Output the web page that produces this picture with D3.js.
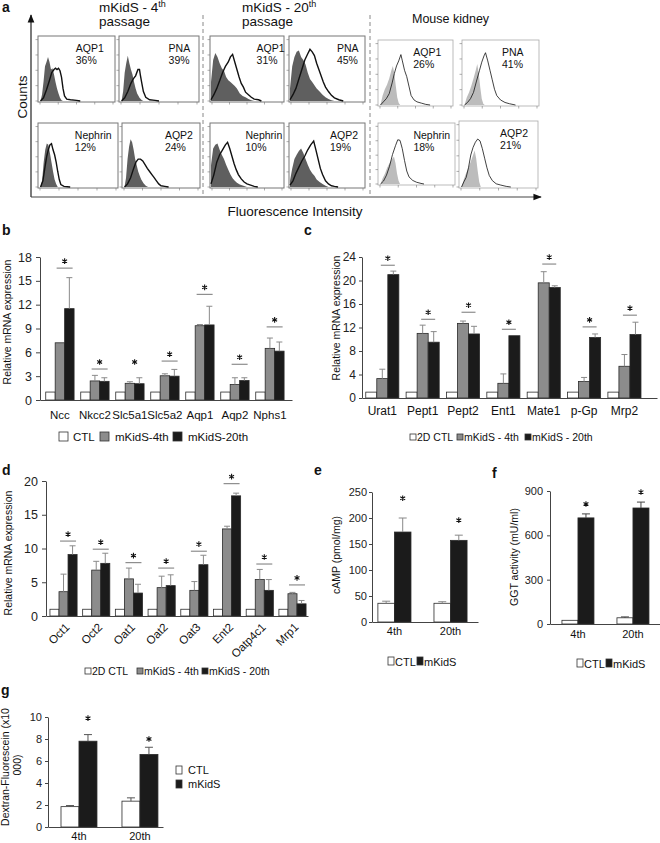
<!DOCTYPE html>
<html><head><meta charset="utf-8">
<script src="https://cdn.jsdelivr.net/npm/d3@7"></script>
<style>body{margin:0;background:#fff}svg{font-family:"Liberation Sans",Arial,sans-serif}</style>
</head><body><svg id="fig" width="660" height="843"></svg>
<script>
// ================= DATA =================
// Panel a: flow cytometry
const flowMarkers = ["AQP1", "PNA", "Nephrin", "AQP2"];
const flowPct4 = [36, 39, 12, 24];
const flowPct20 = [31, 45, 10, 19];
const flowPctKidney = [26, 41, 18, 21];
const flowDecades = [0, 1, 2, 3, 4];
// histogram curves: [position along log axis (0-1), relative count (0-1)]
const iso4 = [
  [[0.02,0],[0.04,0.1],[0.06,0.3],[0.08,0.55],[0.1,0.62],[0.12,0.7],[0.14,0.62],[0.16,0.5],[0.18,0.52],[0.2,0.42],[0.22,0.3],[0.24,0.2],[0.26,0.12],[0.28,0.05],[0.3,0.01],[0.32,0]],
  [[0.02,0],[0.04,0.15],[0.06,0.45],[0.08,0.6],[0.1,0.72],[0.12,0.6],[0.14,0.5],[0.16,0.42],[0.18,0.3],[0.2,0.2],[0.22,0.12],[0.25,0.05],[0.28,0.01],[0.3,0]],
  [[0.02,0],[0.04,0.1],[0.06,0.4],[0.08,0.6],[0.1,0.7],[0.12,0.68],[0.14,0.55],[0.16,0.4],[0.18,0.25],[0.2,0.12],[0.22,0.05],[0.24,0]],
  [[0.02,0],[0.04,0.15],[0.06,0.45],[0.08,0.65],[0.1,0.77],[0.12,0.72],[0.14,0.6],[0.16,0.45],[0.18,0.35],[0.2,0.25],[0.22,0.18],[0.24,0.12],[0.27,0.06],[0.3,0.02],[0.33,0]]
];
const stain4 = [
  [[0.02,0],[0.06,0.05],[0.1,0.18],[0.14,0.33],[0.17,0.45],[0.2,0.5],[0.22,0.52],[0.24,0.5],[0.26,0.52],[0.28,0.48],[0.3,0.38],[0.32,0.2],[0.34,0.08],[0.37,0.03],[0.42,0.02],[0.5,0.01],[0.55,0]],
  [[0.02,0],[0.06,0.05],[0.1,0.15],[0.14,0.28],[0.17,0.35],[0.2,0.4],[0.23,0.5],[0.25,0.5],[0.26,0.42],[0.28,0.28],[0.3,0.15],[0.33,0.06],[0.38,0.02],[0.45,0.01],[0.5,0]],
  [[0.02,0],[0.05,0.1],[0.08,0.35],[0.1,0.5],[0.12,0.6],[0.14,0.68],[0.16,0.7],[0.18,0.6],[0.2,0.52],[0.22,0.4],[0.24,0.25],[0.26,0.12],[0.28,0.04],[0.32,0.01],[0.4,0]],
  [[0.02,0],[0.06,0.05],[0.1,0.15],[0.14,0.3],[0.17,0.4],[0.2,0.45],[0.23,0.45],[0.26,0.42],[0.29,0.36],[0.32,0.3],[0.35,0.25],[0.38,0.2],[0.41,0.15],[0.44,0.1],[0.47,0.05],[0.5,0.02],[0.55,0.01],[0.6,0]]
];
const iso20 = [
  [[0,0.3],[0.03,0.65],[0.06,0.76],[0.09,0.7],[0.12,0.6],[0.15,0.52],[0.18,0.48],[0.21,0.38],[0.24,0.33],[0.27,0.3],[0.3,0.27],[0.33,0.24],[0.36,0.2],[0.4,0.12],[0.44,0.08],[0.48,0.06],[0.52,0.03],[0.56,0.01],[0.6,0]],
  [[0,0.2],[0.03,0.55],[0.06,0.7],[0.09,0.78],[0.12,0.8],[0.15,0.7],[0.18,0.65],[0.21,0.58],[0.24,0.45],[0.27,0.35],[0.3,0.3],[0.33,0.25],[0.36,0.2],[0.4,0.15],[0.44,0.1],[0.48,0.06],[0.52,0.03],[0.56,0.01],[0.6,0]],
  [[0,0.35],[0.03,0.62],[0.06,0.68],[0.09,0.7],[0.12,0.6],[0.15,0.52],[0.18,0.45],[0.21,0.36],[0.24,0.28],[0.27,0.2],[0.3,0.14],[0.33,0.1],[0.36,0.07],[0.4,0.04],[0.45,0.02],[0.5,0]],
  [[0,0.1],[0.03,0.3],[0.06,0.45],[0.09,0.52],[0.12,0.58],[0.15,0.62],[0.18,0.55],[0.21,0.45],[0.24,0.36],[0.27,0.28],[0.3,0.22],[0.33,0.18],[0.36,0.12],[0.4,0.08],[0.44,0.05],[0.48,0.02],[0.52,0]]
];
const stain20 = [
  [[0,0.02],[0.04,0.1],[0.08,0.2],[0.12,0.32],[0.16,0.45],[0.2,0.55],[0.24,0.62],[0.27,0.7],[0.3,0.74],[0.33,0.62],[0.36,0.5],[0.39,0.38],[0.42,0.28],[0.45,0.22],[0.48,0.14],[0.52,0.1],[0.56,0.06],[0.6,0.03],[0.66,0.02],[0.7,0]],
  [[0,0.02],[0.04,0.1],[0.08,0.2],[0.12,0.35],[0.16,0.5],[0.2,0.65],[0.24,0.75],[0.27,0.82],[0.3,0.78],[0.33,0.72],[0.36,0.6],[0.39,0.5],[0.42,0.4],[0.45,0.3],[0.48,0.22],[0.52,0.15],[0.56,0.09],[0.6,0.05],[0.66,0.02],[0.72,0]],
  [[0,0.05],[0.04,0.2],[0.08,0.4],[0.12,0.52],[0.16,0.6],[0.2,0.68],[0.23,0.72],[0.26,0.62],[0.29,0.5],[0.32,0.38],[0.35,0.28],[0.38,0.2],[0.42,0.13],[0.46,0.08],[0.5,0.05],[0.55,0.03],[0.6,0.01],[0.65,0]],
  [[0,0.03],[0.04,0.1],[0.08,0.22],[0.12,0.32],[0.16,0.42],[0.2,0.5],[0.24,0.6],[0.28,0.68],[0.32,0.74],[0.35,0.6],[0.38,0.45],[0.41,0.3],[0.44,0.2],[0.48,0.1],[0.52,0.05],[0.56,0.02],[0.6,0.01],[0.65,0]]
];
const isoKidney = [
  [[0.02,0],[0.05,0.15],[0.08,0.25],[0.11,0.32],[0.14,0.42],[0.17,0.55],[0.19,0.62],[0.21,0.5],[0.23,0.3],[0.25,0.12],[0.27,0.03],[0.29,0]],
  [[0.02,0],[0.05,0.12],[0.08,0.2],[0.11,0.3],[0.14,0.42],[0.17,0.55],[0.19,0.65],[0.21,0.5],[0.23,0.28],[0.25,0.1],[0.27,0.02],[0.29,0]],
  [[0.02,0],[0.05,0.1],[0.08,0.18],[0.11,0.28],[0.14,0.35],[0.17,0.42],[0.2,0.46],[0.22,0.35],[0.24,0.18],[0.26,0.06],[0.28,0]],
  [[0.02,0],[0.05,0.12],[0.08,0.22],[0.11,0.3],[0.14,0.4],[0.17,0.5],[0.19,0.57],[0.21,0.45],[0.23,0.25],[0.25,0.08],[0.27,0]]
];
const stainKidney = [
  [[0.02,0],[0.06,0.05],[0.1,0.1],[0.14,0.18],[0.18,0.35],[0.21,0.5],[0.24,0.62],[0.27,0.7],[0.3,0.8],[0.32,0.7],[0.35,0.55],[0.38,0.45],[0.41,0.3],[0.44,0.15],[0.48,0.08],[0.52,0.05],[0.58,0.03],[0.64,0.01],[0.7,0]],
  [[0.02,0],[0.06,0.04],[0.1,0.1],[0.14,0.2],[0.18,0.38],[0.22,0.55],[0.25,0.68],[0.28,0.78],[0.3,0.83],[0.33,0.7],[0.36,0.55],[0.39,0.4],[0.42,0.25],[0.45,0.15],[0.5,0.08],[0.56,0.04],[0.62,0.02],[0.7,0]],
  [[0.02,0],[0.06,0.05],[0.1,0.15],[0.14,0.3],[0.18,0.5],[0.22,0.65],[0.25,0.75],[0.28,0.74],[0.31,0.6],[0.34,0.4],[0.37,0.22],[0.4,0.12],[0.45,0.06],[0.5,0.03],[0.56,0.01],[0.6,0]],
  [[0.02,0],[0.05,0.08],[0.08,0.15],[0.11,0.3],[0.14,0.5],[0.17,0.62],[0.2,0.7],[0.23,0.75],[0.26,0.72],[0.29,0.6],[0.32,0.45],[0.35,0.3],[0.38,0.18],[0.42,0.1],[0.47,0.05],[0.53,0.03],[0.6,0.01],[0.66,0]]
];

// Panel b
const bGenes = ["Ncc", "Nkcc2", "Slc5a1", "Slc5a2", "Aqp1", "Aqp2", "Nphs1"];
const bCtl = [1, 1, 1, 1, 1, 1, 1];
const bP4 = [7.2, 2.4, 2.1, 3.05, 9.35, 1.95, 6.5];
const bP4Err = [null, 3.1, 2.3, 3.3, 9.5, 2.8, 7.8];
const bP20 = [11.5, 2.35, 2.05, 3.0, 9.45, 2.45, 6.15];
const bP20Err = [15.4, 2.8, 2.8, 3.85, 11.8, 2.8, 7.3];
const bSig = [16.6, 3.9, 3.9, 4.9, 13.3, 4.5, 9.2];
const bSigLine = [true, true, false, true, true, true, true];
const bTicks = [0, 3, 6, 9, 12, 15, 18];
const bLegend = ["CTL", "mKidS-4th", "mKidS-20th"];

// Panel c
const cGenes = ["Urat1", "Pept1", "Pept2", "Ent1", "Mate1", "p-Gp", "Mrp2"];
const cCtl = [1, 1, 1, 1, 1, 1, 1];
const cP4 = [3.3, 11.0, 12.7, 2.5, 19.6, 2.8, 5.4];
const cP4Err = [4.9, 12.4, 13.1, 4.1, 21.5, 3.5, 7.4];
const cP20 = [21.0, 9.5, 10.9, 10.6, 18.8, 10.3, 10.8];
const cP20Err = [21.6, 11.3, 12.2, null, 19.1, 10.9, 12.9];
const cSig = [22.6, 13.4, 14.6, 11.7, 22.8, 12.1, 14.1];
const cTicks = [0, 4, 8, 12, 16, 20, 24];
const cLegend = ["2D CTL", "mKidS - 4th", "mKidS - 20th"];

// Panel d
const dGenes = ["Oct1", "Oct2", "Oat1", "Oat2", "Oat3", "Ent2", "Oatp4c1", "Mrp1"];
const dCtl = [1, 1, 1, 1, 1, 1, 1, 1];
const dP4 = [3.6, 6.8, 5.5, 4.2, 3.8, 12.9, 5.4, 3.3];
const dP4Err = [6.2, 8.1, 7.1, 5.9, 5.1, 13.3, 6.9, 3.5];
const dP20 = [9.1, 7.8, 3.4, 4.5, 7.6, 17.8, 3.8, 1.8];
const dP20Err = [10.4, 9.3, 4.7, 6.1, 9.0, 18.2, 5.4, 2.3];
const dSig = [11.1, 9.9, 7.9, 7.1, 9.6, 19.6, 7.7, 4.6];
const dTicks = [0, 5, 10, 15, 20];
const dLegend = ["2D CTL", "mKidS - 4th", "mKidS - 20th"];

// Panels e, f, g
const passages = ["4th", "20th"];
const eCtl = [36, 36], eCtlErr = [40, 39], eKid = [173, 157], eKidErr = [200, 167], eStar = [238, 196];
const eTicks = [0, 50, 100, 150, 200, 250];
const fCtl = [25, 42], fCtlErr = [null, 48], fKid = [718, 785], fKidErr = [745, 825], fStar = [812, 893];
const fTicks = [0, 300, 600, 900];
const gCtl = [1.85, 2.35], gCtlErr = [1.95, 2.65], gKid = [7.8, 6.6], gKidErr = [8.4, 7.25], gStar = [9.9, 8.0];
const gTicks = [0, 2, 4, 6, 8, 10];
const efgLegend = ["CTL", "mKidS"];

// ================= DRAWING =================
const svg = d3.select("#fig");
const WHITE = "#ffffff", GREY = "#8c8c8c", BLACK = "#1b1b1b";

function txt(x, y, s, size, opts = {}) {
  const t = svg.append("text").attr("x", x).attr("y", y).attr("font-size", size)
    .attr("fill", opts.fill || "#111").text(s);
  if (opts.anchor) t.attr("text-anchor", opts.anchor);
  if (opts.weight) t.attr("font-weight", opts.weight);
  if (opts.rotate) t.attr("transform", `rotate(${opts.rotate},${x},${y})`);
  return t;
}
const starPath = d3.symbol().type(d3.symbolAsterisk).size(22)();
function star(cx, cy) {
  svg.append("path").attr("d", starPath).attr("transform", `translate(${cx},${cy})`)
    .attr("fill", "none").attr("stroke", "#111").attr("stroke-width", 1.1);
}

// ---------- panel a ----------
txt(2, 12, "a", 14, { weight: "bold" });
const defs = svg.append("defs");
defs.append("marker").attr("id", "arr").attr("viewBox", "0 0 10 10").attr("refX", 9).attr("refY", 5)
  .attr("markerWidth", 7).attr("markerHeight", 7).attr("orient", "auto")
  .append("path").attr("d", "M0,1 L10,5 L0,9 Z").attr("fill", "#111");
svg.append("line").attr("x1", 31).attr("y1", 197).attr("x2", 31).attr("y2", 15)
  .attr("stroke", "#222").attr("stroke-width", 1.2).attr("marker-end", "url(#arr)");
svg.append("line").attr("x1", 31).attr("y1", 197).attr("x2", 541).attr("y2", 197)
  .attr("stroke", "#444").attr("stroke-width", 1.2).attr("marker-end", "url(#arr)");
txt(27, 97, "Counts", 13.5, { anchor: "middle", rotate: -90 });
txt(295, 216, "Fluorescence Intensity", 13.5, { anchor: "middle" });
[203, 370].forEach(xx => svg.append("line").attr("x1", xx).attr("x2", xx).attr("y1", 15).attr("y2", 197)
  .attr("stroke", "#888").attr("stroke-width", 1).attr("stroke-dasharray", "4,3"));
function twoLineTitle(x, num) {
  const t = svg.append("text").attr("x", x).attr("y", 12).attr("font-size", 13.5).attr("fill", "#111");
  t.append("tspan").text(`mKidS - ${num}`);
  t.append("tspan").attr("font-size", 9).attr("dy", -5).text("th");
  txt(x, 26, "passage", 13.5);
}
twoLineTitle(99, "4");
twoLineTitle(242, "20");
txt(412, 23, "Mouse kidney", 12.5);

const boxes4 = [[38,36,77,66],[119,36,80,66],[38,123,80,65],[122,123,78,65]];
const boxes20 = [[210,36,74,66],[289,36,76,66],[210,123,74,65],[289,123,76,65]];
const boxesKid = [[378,40,75,66],[462,40,77,66],[378,123,77,62],[459,121,79,67]];
const lx4 = [0.49, 0.62, 0.46, 0.55], lx20 = [0.63, 0.63, 0.48, 0.54], lxKid = [0.47, 0.52, 0.46, 0.52];

function flowPanel(box, iso, stain, marker, pct, lx, kind) {
  const [px, py, w, h] = box;
  const g = svg.append("g");
  const x = d3.scaleLinear().domain([0, 1]).range([px + 1, px + w - 1]);
  const y = d3.scaleLinear().domain([0, 1]).range([py + h - 1, py + 2]);
  const cell = kind === "cell";
  g.append("rect").attr("x", px).attr("y", py).attr("width", w).attr("height", h)
    .attr("fill", "#fff").attr("stroke", cell ? "#777" : "#aaa").attr("stroke-width", cell ? 1 : 0.8);
  const area = d3.area().x(d => x(d[0])).y0(y(0)).y1(d => y(d[1]));
  const line = d3.line().x(d => x(d[0])).y(d => y(d[1]));
  g.append("path").datum(iso).attr("d", area).attr("fill", cell ? "#5f5f5f" : "#bcbcbc");
  g.append("path").datum(stain).attr("d", line).attr("fill", "none")
    .attr("stroke", "#111").attr("stroke-width", cell ? 1.4 : 0.8);
  const xt = d3.scaleLinear().domain([0, 4]).range([px + 2, px + w - 2]);
  flowDecades.forEach(d => {
    g.append("line").attr("x1", xt(d)).attr("x2", xt(d)).attr("y1", py + h).attr("y2", py + h + 2.5)
      .attr("stroke", "#777").attr("stroke-width", 0.6);
    g.append("line").attr("x1", px).attr("x2", px - 2.5).attr("y1", py + h - d * h / 4.3 - 1).attr("y2", py + h - d * h / 4.3 - 1)
      .attr("stroke", "#777").attr("stroke-width", 0.6);
  });
  txt(px + lx * w, py + 16, marker, 10.5);
  txt(px + lx * w, py + 27.5, pct + "%", 10.5);
}
flowMarkers.forEach((m, i) => {
  flowPanel(boxes4[i], iso4[i], stain4[i], m, flowPct4[i], lx4[i], "cell");
  flowPanel(boxes20[i], iso20[i], stain20[i], m, flowPct20[i], lx20[i], "cell");
  flowPanel(boxesKid[i], isoKidney[i], stainKidney[i], m, flowPctKidney[i], lxKid[i], "kidney");
});

// ---------- generic bar panel ----------
function barPanel(o) {
  const g = svg.append("g");
  const x = d3.scaleBand().domain(o.cats).range([o.left, o.right])
    .paddingInner(o.pi).paddingOuter(o.po).align(o.align);
  const sub = d3.scaleBand().domain(d3.range(o.series.length)).range([0, x.bandwidth()]);
  const y = d3.scaleLinear().domain([0, o.yMax]).range([o.bottom, o.top]);
  o.series.forEach((s, si) => {
    g.append("g").selectAll("rect").data(o.cats).join("rect")
      .attr("x", c => x(c) + sub(si)).attr("width", sub.bandwidth())
      .attr("y", (c, i) => y(s.vals[i])).attr("height", (c, i) => y(0) - y(s.vals[i]))
      .attr("fill", s.fill).attr("stroke", "#2a2a2a").attr("stroke-width", 0.8);
  });
  o.series.forEach((s, si) => {
    if (!s.errs) return;
    const eg = g.append("g").attr("stroke", o.errColor).attr("stroke-width", 1);
    o.cats.forEach((c, i) => {
      const e = s.errs[i];
      if (e == null || e <= s.vals[i]) return;
      const cx = x(c) + sub(si) + sub.bandwidth() / 2;
      eg.append("line").attr("x1", cx).attr("x2", cx).attr("y1", y(s.vals[i])).attr("y2", y(e));
      eg.append("line").attr("x1", cx - o.cap).attr("x2", cx + o.cap).attr("y1", y(e)).attr("y2", y(e));
    });
  });
  const ya = g.append("g").attr("transform", `translate(${o.left},0)`)
    .call(d3.axisLeft(y).tickValues(o.ticks).tickSize(o.tickSize).tickPadding(o.tickPad).tickSizeOuter(0));
  ya.selectAll("text").attr("font-size", o.tickFont).attr("fill", "#222").attr("font-family", null);
  ya.selectAll("line,path").attr("stroke", "#444");
  const xa = g.append("g").attr("transform", `translate(0,${o.bottom})`)
    .call(d3.axisBottom(x).tickSize(0).tickPadding(o.xPad).tickSizeOuter(0));
  xa.selectAll("text").attr("font-size", o.xFont).attr("fill", "#111").attr("font-family", null);
  xa.select("path").attr("stroke", "#444");
  if (o.rotateLabels) {
    xa.selectAll("text").attr("text-anchor", "end").attr("x", 0).attr("y", 0).attr("dy", "0.35em")
      .attr("transform", "translate(4,9) rotate(-45)");
  }
  return { x, sub, y };
}

function sigMarks(p, cats, sig, showLine, half) {
  cats.forEach((c, i) => {
    const cx = p.x(c) + p.sub(2);
    const yy = p.y(sig[i]);
    if (!showLine || showLine[i]) {
      svg.append("line").attr("x1", cx - half).attr("x2", cx + half).attr("y1", yy).attr("y2", yy)
        .attr("stroke", "#777").attr("stroke-width", 1);
    }
    star(cx, yy - 7);
  });
}

function starsOverBlack(p, cats, lvl) {
  cats.forEach((c, i) => {
    const cx = p.x(c) + p.sub(1) + p.sub.bandwidth() / 2;
    star(cx, p.y(lvl[i]));
  });
}

function boxKey(x, y, w, h, fill) {
  svg.append("rect").attr("x", x).attr("y", y).attr("width", w).attr("height", h)
    .attr("fill", fill).attr("stroke", "#333").attr("stroke-width", 0.8);
}

// ---------- panel b ----------
txt(2, 235, "b", 14, { weight: "bold" });
const pb = barPanel({
  cats: bGenes, left: 40, right: 292, top: 257, bottom: 400, yMax: 18, ticks: bTicks,
  pi: 0.19, po: 0.195, align: 0.42, tickSize: 4, tickPad: 4, xPad: 11, tickFont: 12.5, xFont: 11.5,
  errColor: "#8a8a8a", cap: 3,
  series: [{ vals: bCtl, fill: WHITE }, { vals: bP4, errs: bP4Err, fill: GREY }, { vals: bP20, errs: bP20Err, fill: BLACK }]
});
sigMarks(pb, bGenes, bSig, bSigLine, 8);
txt(11, 322, "Relative mRNA expression", 10.5, { anchor: "middle", rotate: -90 });
boxKey(59, 432, 9, 9, WHITE); txt(73, 441, bLegend[0], 11.5);
boxKey(100, 432, 9, 9, GREY); txt(115, 441, bLegend[1], 11.5);
boxKey(173, 432, 9, 9, BLACK); txt(188, 441, bLegend[2], 11.5);

// ---------- panel c ----------
txt(304, 235, "c", 14, { weight: "bold" });
const pc = barPanel({
  cats: cGenes, left: 362, right: 657, top: 257, bottom: 398, yMax: 24, ticks: cTicks,
  pi: 0.18, po: 0.245, align: 0.19, tickSize: 3, tickPad: 3, xPad: 8, tickFont: 12, xFont: 12,
  errColor: "#8a8a8a", cap: 3,
  series: [{ vals: cCtl, fill: WHITE }, { vals: cP4, errs: cP4Err, fill: GREY }, { vals: cP20, errs: cP20Err, fill: BLACK }]
});
sigMarks(pc, cGenes, cSig, null, 7);
txt(340, 318, "Relative mRNA expression", 10.5, { anchor: "middle", rotate: -90 });
boxKey(410, 434, 6, 6, WHITE); txt(417, 441, cLegend[0], 10.5);
boxKey(457, 434, 6, 6, GREY); txt(464, 441, cLegend[1], 10.5);
boxKey(525, 434, 6, 6, BLACK); txt(532, 441, cLegend[2], 10.5);

// ---------- panel d ----------
txt(2, 475, "d", 14, { weight: "bold" });
const pd = barPanel({
  cats: dGenes, left: 46, right: 308, top: 481, bottom: 616, yMax: 20, ticks: dTicks,
  pi: 0.17, po: 0.09, align: 0.67, tickSize: 4, tickPad: 4, xPad: 8, tickFont: 12.5, xFont: 11.5,
  errColor: "#8a8a8a", cap: 3, rotateLabels: true,
  series: [{ vals: dCtl, fill: WHITE }, { vals: dP4, errs: dP4Err, fill: GREY }, { vals: dP20, errs: dP20Err, fill: BLACK }]
});
sigMarks(pd, dGenes, dSig, null, 8);
txt(12, 553, "Relative mRNA expression", 10.5, { anchor: "middle", rotate: -90 });
boxKey(85, 668, 6, 6, WHITE); txt(92, 675, dLegend[0], 10.5);
boxKey(137, 668, 6, 6, GREY); txt(144, 675, dLegend[1], 10.5);
boxKey(202, 668, 6, 6, BLACK); txt(209, 675, dLegend[2], 10.5);

// ---------- panel e ----------
txt(314, 475, "e", 14, { weight: "bold" });
const pe = barPanel({
  cats: passages, left: 372, right: 478, top: 492, bottom: 622, yMax: 250, ticks: eTicks,
  pi: 0.41, po: 0.15, align: 0.35, tickSize: 3, tickPad: 2, xPad: 5, tickFont: 11, xFont: 11,
  errColor: "#888", cap: 4,
  series: [{ vals: eCtl, errs: eCtlErr, fill: WHITE }, { vals: eKid, errs: eKidErr, fill: BLACK }]
});
starsOverBlack(pe, passages, eStar);
txt(340, 555, "cAMP (pmol/mg)", 10.5, { anchor: "middle", rotate: -90 });
boxKey(388, 657, 6, 8, WHITE); txt(395, 666, efgLegend[0], 11);
boxKey(417, 657, 6, 8, BLACK); txt(424, 666, efgLegend[1], 11);

// ---------- panel f ----------
txt(492, 478, "f", 14, { weight: "bold" });
const pf = barPanel({
  cats: passages, left: 550, right: 660, top: 491, bottom: 624, yMax: 900, ticks: fTicks,
  pi: 0.418, po: 0.209, align: 0.52, tickSize: 3, tickPad: 4, xPad: 6, tickFont: 11, xFont: 11,
  errColor: "#444", cap: 4,
  series: [{ vals: fCtl, errs: fCtlErr, fill: WHITE }, { vals: fKid, errs: fKidErr, fill: BLACK }]
});
starsOverBlack(pf, passages, fStar);
txt(518, 557, "GGT activity (mU/ml)", 10.5, { anchor: "middle", rotate: -90 });
boxKey(577, 659, 6, 8, WHITE); txt(584, 668, efgLegend[0], 11);
boxKey(606, 659, 6, 8, BLACK); txt(613, 668, efgLegend[1], 11);

// ---------- panel g ----------
txt(1, 695, "g", 14, { weight: "bold" });
const pg = barPanel({
  cats: passages, left: 48, right: 163, top: 717, bottom: 827, yMax: 10, ticks: gTicks,
  pi: 0.41, po: 0.148, align: 0.72, tickSize: 3, tickPad: 3, xPad: 5, tickFont: 11, xFont: 11,
  errColor: "#555", cap: 4,
  series: [{ vals: gCtl, errs: gCtlErr, fill: WHITE }, { vals: gKid, errs: gKidErr, fill: BLACK }]
});
starsOverBlack(pg, passages, gStar);
txt(9, 767, "Dextran-Fluorescein (x10", 10.5, { anchor: "middle", rotate: -90 });
txt(21, 765, "000)", 10.5, { anchor: "middle", rotate: -90 });
boxKey(176, 766, 6, 8, WHITE); txt(188, 774, efgLegend[0], 11);
boxKey(176, 780, 6, 8, BLACK); txt(188, 788, efgLegend[1], 11);
</script></body></html>
